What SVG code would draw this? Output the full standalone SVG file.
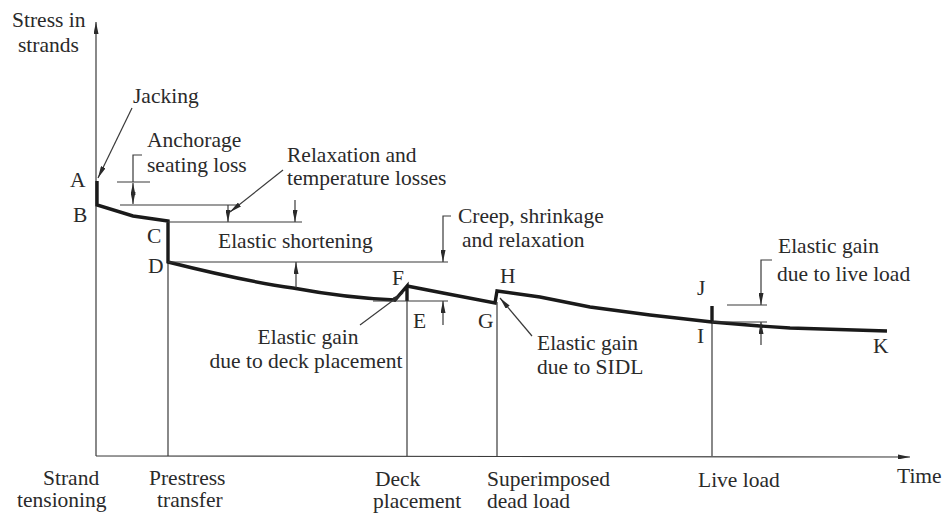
<svg xmlns="http://www.w3.org/2000/svg" width="945" height="513" viewBox="0 0 945 513">
<style>
text{font-family:"Liberation Serif","Times New Roman",Tinos,"Nimbus Roman","Nimbus Roman No9 L",FreeSerif,"Noto Serif","DejaVu Serif",serif;font-size:21.5px;fill:#2a2a2a}
.thin{fill:none;stroke:#3a3a3a;stroke-width:1.2}
.thick{fill:none;stroke:#1a1a1a;stroke-width:3.4;stroke-linejoin:miter}
.arr{marker-end:url(#ah)}
.arr2{marker-start:url(#ahs);marker-end:url(#ah)}
</style>
<defs>
<marker id="ah" viewBox="0 0 10 10" refX="10" refY="5" markerUnits="userSpaceOnUse" markerWidth="12" markerHeight="5" preserveAspectRatio="none" orient="auto">
<path d="M0,0 L10,5 L0,10 z" fill="#2a2a2a"/>
</marker>
<marker id="ahs" viewBox="0 0 10 10" refX="0" refY="5" markerUnits="userSpaceOnUse" markerWidth="12" markerHeight="5" preserveAspectRatio="none" orient="auto">
<path d="M10,0 L0,5 L10,10 z" fill="#2a2a2a"/>
</marker>
</defs>
<rect width="945" height="513" fill="#ffffff"/>

<g id="axes">
<line class="thin arr" x1="96" y1="456" x2="96" y2="22"/>
<line class="thin arr" x1="96" y1="456" x2="910" y2="457"/>
<text x="12" y="27">Stress in</text>
<text x="18" y="52">strands</text>
<text x="897" y="483">Time</text>
</g>

<g id="event-lines">
<line class="thin" x1="168" y1="262" x2="168" y2="456"/>
<line class="thin" x1="407" y1="301" x2="407" y2="456"/>
<line class="thin" x1="497" y1="302" x2="497" y2="456"/>
<line class="thin" x1="712" y1="322" x2="712" y2="456"/>
</g>

<g id="time-labels">
<g id="strand-tensioning"><text x="43" y="485">Strand</text><text x="17" y="507">tensioning</text></g>
<g id="prestress-transfer"><text x="149" y="485">Prestress</text><text x="157" y="507">transfer</text></g>
<g id="deck-placement"><text x="375" y="486">Deck</text><text x="373" y="508">placement</text></g>
<g id="superimposed-dead-load"><text x="487" y="486">Superimposed</text><text x="487" y="508">dead load</text></g>
<g id="live-load"><text x="698" y="487">Live load</text></g>
</g>

<g id="stress-curve">
<path class="thick" d="M97,181 L97,205 L133,216 L168,221 L168,262 C200,270 250,282 293,288 C320,293 350,298 395,300 L407,286 L407,301"/>
<path class="thick" d="M407,286 L443,293 L495,303 L497,291 L540,297 L590,307 L650,315 L712,322 L760,326 L790,328 L887,331"/>
<line class="thick" x1="712" y1="322" x2="712" y2="306"/>
</g>

<g id="point-labels">
<text x="70" y="187">A</text>
<text x="73" y="222">B</text>
<text x="147" y="243">C</text>
<text x="148" y="273">D</text>
<text x="392" y="285">F</text>
<text x="413" y="328">E</text>
<text x="478" y="328">G</text>
<text x="500" y="283">H</text>
<text x="697" y="295">J</text>
<text x="697" y="343">I</text>
<text x="873" y="353">K</text>
</g>

<g id="connectors">
<line class="thin arr" x1="132" y1="108" x2="98" y2="178"/>
<polyline class="thin" points="142,155 133,155 133,182"/>
<line class="thin" x1="117" y1="182" x2="150" y2="182"/>
<line class="thin" x1="120" y1="205" x2="237" y2="205"/>
<line class="thin arr2" x1="133" y1="183" x2="133" y2="204"/>
<line class="thin arr" x1="228" y1="205" x2="228" y2="222"/>
<line class="thin arr" x1="283" y1="170" x2="230" y2="212"/>
<line class="thin" x1="168" y1="222" x2="302" y2="222"/>
<line class="thin arr" x1="295" y1="200" x2="295" y2="222"/>
<line class="thin" x1="168" y1="262" x2="448" y2="262"/>
<line class="thin arr" x1="296" y1="288" x2="296" y2="262"/>
<polyline class="thin arr" points="451,216 443,216 443,262"/>
<line class="thin" x1="373" y1="301" x2="448" y2="301"/>
<line class="thin arr" x1="443" y1="325" x2="443" y2="301"/>
<line class="thin arr" x1="360" y1="325" x2="403" y2="293"/>
<line class="thin arr" x1="532" y1="336" x2="500" y2="298"/>
<polyline class="thin arr" points="772,260 761,260 761,305"/>
<line class="thin" x1="727" y1="305" x2="767" y2="305"/>
<line class="thin" x1="712" y1="322" x2="767" y2="322"/>
<line class="thin arr" x1="761" y1="345" x2="761" y2="322"/>
</g>

<g id="annotations">
<g id="jacking"><text x="133" y="103">Jacking</text></g>
<g id="anchorage"><text x="147" y="147">Anchorage</text><text x="147" y="172">seating loss</text></g>
<g id="relaxation"><text x="287" y="162">Relaxation and</text><text x="287" y="185">temperature losses</text></g>
<g id="elastic-shortening"><text x="218" y="248">Elastic shortening</text></g>
<g id="creep"><text x="458" y="223">Creep, shrinkage</text><text x="462" y="247">and relaxation</text></g>
<g id="gain-deck"><text x="308" y="344" text-anchor="middle">Elastic gain</text><text x="306" y="368" text-anchor="middle">due to deck placement</text></g>
<g id="gain-sidl"><text x="537" y="350">Elastic gain</text><text x="537" y="374">due to SIDL</text></g>
<g id="gain-live"><text x="778" y="253">Elastic gain</text><text x="777" y="281">due to live load</text></g>
</g>
</svg>
